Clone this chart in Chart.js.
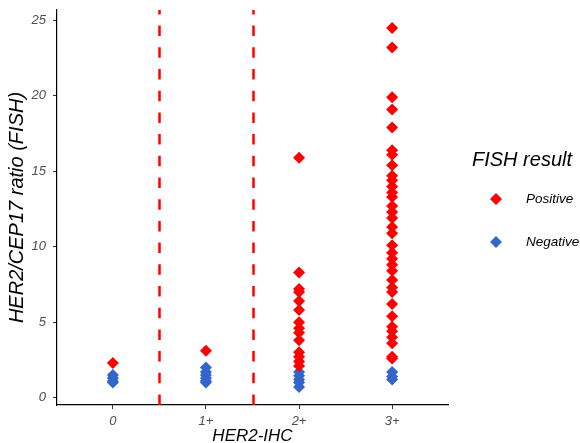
<!DOCTYPE html>
<html>
<head>
<meta charset="utf-8">
<script src="https://cdn.jsdelivr.net/npm/chart.js@4/dist/chart.umd.min.js"></script>
<style>
html,body{margin:0;padding:0;background:#fff;}
#wrap{width:580px;height:443px;position:relative;}
</style>
</head>
<body>
<div id="wrap"><canvas id="c" width="580" height="443"></canvas></div>
<script>
// Categories (HER2-IHC score)
const categories = ['0', '1+', '2+', '3+'];
// FISH ratio values per category
const positive0 = [2.3];
const negative0 = [1.5, 1.3, 1.1, 1.0];
const positive1 = [3.1];
const negative1 = [2.0, 1.7, 1.5, 1.3, 1.1, 1.0];
const positive2 = [15.9, 8.3, 7.2, 7.0, 6.4, 5.8, 5.0, 4.6, 4.3, 3.8, 3.0, 2.7, 2.4, 2.1];
const negative2 = [1.7, 1.45, 1.2, 1.0, 0.7];
const positive3 = [24.5, 23.2, 19.9, 19.1, 17.9, 16.4, 16.1, 15.4, 14.7, 14.4, 14.0, 13.6, 13.3,
  12.7, 12.3, 11.9, 11.3, 10.9, 10.1, 9.6, 9.2, 8.8, 8.4, 7.8, 7.3, 7.0, 6.2, 5.4, 4.7, 4.4, 4.0, 3.6, 2.7, 2.6];
const negative3 = [1.7, 1.4, 1.2];
const yTicks = [0, 5, 10, 15, 20, 25];
const cutoffs = [0.5, 1.5];
const seriesNames = ['Positive', 'Negative'];
const seriesColors = ['#FF0000', '#3366CC'];

const posAll = [positive0, positive1, positive2, positive3];
const negAll = [negative0, negative1, negative2, negative3];
function toPoints(groups) {
  const out = [];
  groups.forEach((g, i) => g.forEach(v => out.push({x: i, y: v})));
  return out;
}
const allVals = posAll.flat().concat(negAll.flat());
const dMin = Math.min(...allVals), dMax = Math.max(...allVals);
const pad = (dMax - dMin) * 0.05;

const FONT = "'Liberation Sans', Arial, sans-serif";

const cutoffPlugin = {
  id: 'cutoffs',
  beforeDatasetsDraw(chart) {
    const {ctx, chartArea, scales} = chart;
    ctx.save();
    ctx.strokeStyle = '#FF0000';
    ctx.lineWidth = 2.5;
    ctx.setLineDash([10.5, 11.2]);
    cutoffs.forEach(c => {
      const x = Math.round(scales.x.getPixelForValue(c)) + 0.5;
      ctx.beginPath();
      ctx.moveTo(x, chartArea.bottom);
      ctx.lineTo(x, chartArea.top);
      ctx.stroke();
    });
    ctx.restore();
  }
};

const legendPlugin = {
  id: 'customLegend',
  afterDraw(chart) {
    const {ctx} = chart;
    ctx.save();
    ctx.fillStyle = '#000';
    ctx.font = "italic 20px " + FONT;
    ctx.textBaseline = 'middle';
    ctx.textAlign = 'left';
    ctx.fillText('FISH result', 472, 160);
    const ys = [199, 242];
    seriesNames.forEach((n, i) => {
      ctx.fillStyle = seriesColors[i];
      ctx.beginPath();
      const cx = 496, cy = ys[i], r = 6;
      ctx.moveTo(cx, cy - r); ctx.lineTo(cx + r, cy); ctx.lineTo(cx, cy + r); ctx.lineTo(cx - r, cy);
      ctx.closePath(); ctx.fill();
      ctx.fillStyle = '#000';
      ctx.font = "italic 13.5px " + FONT;
      ctx.fillText(n, 526, cy);
    });
    ctx.restore();
  }
};

new Chart(document.getElementById('c'), {
  type: 'scatter',
  data: {
    datasets: [
      {label: seriesNames[0], data: toPoints(posAll), backgroundColor: seriesColors[0], borderColor: seriesColors[0],
       pointStyle: 'rectRot', pointRadius: 6, borderWidth: 0, pointHoverRadius: 6},
      {label: seriesNames[1], data: toPoints(negAll), backgroundColor: seriesColors[1], borderColor: seriesColors[1],
       pointStyle: 'rectRot', pointRadius: 6, borderWidth: 0, pointHoverRadius: 6}
    ]
  },
  options: {
    responsive: false,
    animation: false,
    devicePixelRatio: 1,
    layout: {padding: {left: 0, right: 132, top: 10, bottom: 0}},
    plugins: {legend: {display: false}, tooltip: {enabled: false}},
    scales: {
      x: {
        type: 'linear',
        min: -0.6, max: categories.length - 0.4,
        afterBuildTicks(s) { s.ticks = categories.map((c, i) => ({value: i})); },
        afterFit(s) { s.height = 38; s.paddingLeft = 0; s.paddingRight = 0; },
        ticks: {
          callback: (v) => categories[v],
          color: '#4D4D4D', font: {family: FONT, size: 13, style: 'italic'}, padding: 5, maxRotation: 0
        },
        grid: {display: true, drawOnChartArea: false, tickLength: 4, color: '#333', lineWidth: 1},
        border: {display: true, color: '#000', width: 1.2},
        title: {display: true, text: 'HER2-IHC', color: '#000', font: {family: FONT, size: 17, style: 'italic', lineHeight: 0.8}, padding: {top: 0, bottom: 0}}
      },
      y: {
        type: 'linear',
        min: dMin - pad, max: dMax + pad,
        afterBuildTicks(s) { s.ticks = yTicks.map(v => ({value: v})); },
        afterFit(s) { s.width = 57; s.paddingTop = 0; s.paddingBottom = 0; },
        ticks: {
          color: '#4D4D4D', font: {family: FONT, size: 13, style: 'italic'}, padding: 7
        },
        grid: {display: true, drawOnChartArea: false, tickLength: 4, color: '#333', lineWidth: 1},
        border: {display: true, color: '#000', width: 1.2},
        title: {display: true, text: 'HER2/CEP17 ratio (FISH)', color: '#000', font: {family: FONT, size: 20, style: 'italic', lineHeight: 1.2}, padding: {top: 5, bottom: 0}}
      }
    }
  },
  plugins: [cutoffPlugin, legendPlugin]
});
</script>
</body>
</html>
